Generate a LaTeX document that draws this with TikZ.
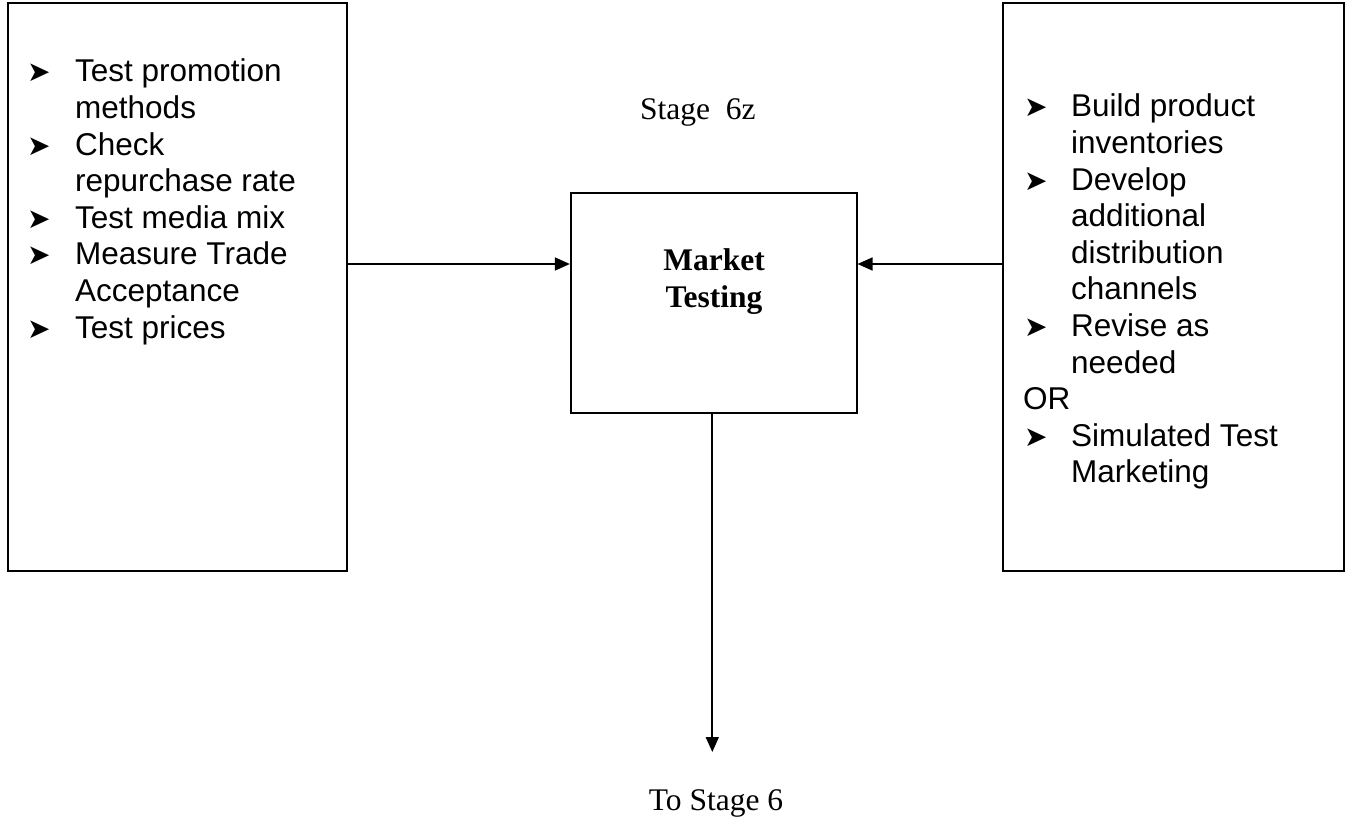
\documentclass[tikz,border=0pt]{standalone}
\usepackage{fontspec}
\setmainfont{Liberation Serif}
\newfontfamily\arialf{Liberation Sans}
\newfontfamily\symf{DejaVu Sans}
\usetikzlibrary{arrows.meta}
\newcommand\bl{\makebox[48pt][l]{\raisebox{0pt}{\fontsize{28}{28}\symf ➤}}}
\newcommand\blr{\makebox[47pt][l]{\raisebox{0pt}{\fontsize{28}{28}\symf ➤}}}
\newcommand\ind{\hspace*{48pt}}
\newcommand\indr{\hspace*{47pt}}
\begin{document}
\begin{tikzpicture}[x=1pt,y=-1pt,
  boxn/.style={draw, line width=1.7pt, rectangle, inner sep=0pt},
  arr/.style={line width=1.7pt, -{Triangle[length=15pt,width=13pt]}},
  txt/.style={inner sep=0pt, anchor=base west}]
\useasboundingbox (0,0) rectangle (1346,821);
\node[boxn, minimum width=339pt, minimum height=568pt] (lbox) at (177.5,287) {};
\node[boxn, minimum width=341pt, minimum height=568pt] (rbox) at (1173.5,287) {};
\node[boxn, minimum width=286pt, minimum height=219.5pt] (mt) at (713.7,303) {};
\node[txt] (ltext) at (27,82) {\parbox[t]{318pt}{\arialf\fontsize{31.5}{36.6}\selectfont
\bl Test promotion\\
\ind methods\\
\bl Check\\
\ind repurchase rate\\
\bl Test media mix\\
\bl Measure Trade\\
\ind Acceptance\\
\bl Test prices}};
\node[txt] (rtext) at (1024,117) {\parbox[t]{318pt}{\arialf\fontsize{31.5}{36.6}\selectfont
\blr Build product\\
\indr inventories\\
\blr Develop\\
\indr additional\\
\indr distribution\\
\indr channels\\
\blr Revise as\\
\indr needed\\
\hspace*{-1pt}OR\\
\blr Simulated Test\\
\indr Marketing}};
\node[txt] (stage) at (640,120) {\fontsize{31.5}{36}\selectfont Stage\ \ 6z};
\node[inner sep=0pt, anchor=base] (mtl) at (714,270) {\parbox[t]{250pt}{\centering\bfseries\fontsize{31.5}{37}\selectfont Market\\Testing}};
\node[inner sep=0pt, anchor=base] (to) at (716,810) {\fontsize{31.5}{36}\selectfont To Stage 6};
\coordinate (ay) at (0,264);
\coordinate (tip) at (712.3,752);
\draw[arr] (lbox.east |- ay) -- (mt.west |- ay);
\draw[arr] (rbox.west |- ay) -- (mt.east |- ay);
\draw[arr] (mt.south -| tip) -- (tip);
\end{tikzpicture}
\end{document}
